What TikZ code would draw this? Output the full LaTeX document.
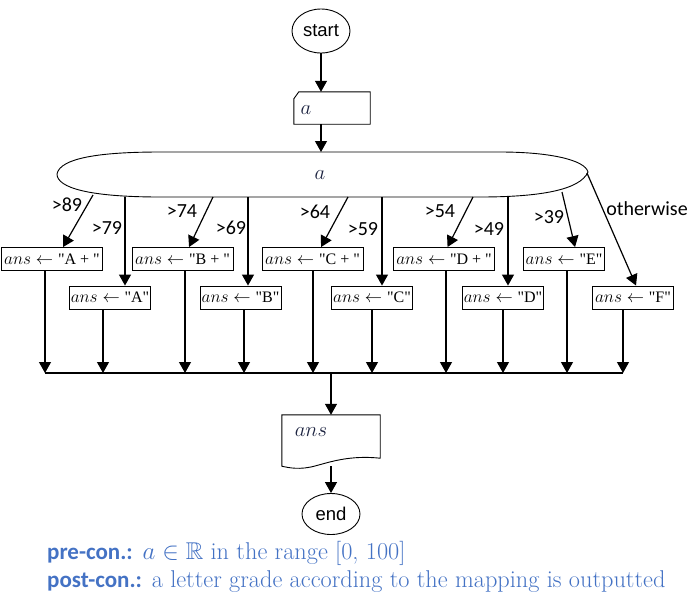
\documentclass[tikz,border=0pt]{standalone}
\usepackage{amssymb}
\usepackage{fontspec}
\usetikzlibrary{arrows.meta,shapes.geometric,calc}
\newfontfamily\carlito{Carlito}
\newfontfamily\arialf{Liberation Sans}
\newfontfamily\timesf{Liberation Serif}
\definecolor{navy}{HTML}{1C2340}
\definecolor{blu}{HTML}{4472C4}
\newcommand{\qs}[1]{{\timesf"#1"}}
\newcommand{\nhead}{\carlito\bfseries\fontsize{23}{26}\selectfont}
\tikzset{
  flow/.style={line width=1.2pt,-{Triangle[length=11pt,width=12pt]}},
  plain/.style={line width=1.2pt},
  outline/.style={line width=0.9pt},
  asg/.style={draw,line width=0.9pt,minimum height=23pt,inner sep=1pt,font=\fontsize{16}{18}\selectfont},
  asgw/.style={asg,minimum width=101pt},
  asgn/.style={asg,minimum width=81pt},
  lbl/.style={font=\carlito\fontsize{20}{22}\selectfont,inner sep=0pt},
  term/.style={ellipse,draw,line width=0.9pt,inner sep=0pt,font=\arialf\fontsize{18.5}{20}\selectfont},
  var/.style={text=navy,font=\fontsize{22}{24}\selectfont,inner sep=0pt},
  note/.style={anchor=base west,text=blu,inner sep=0pt,font=\fontsize{24.3}{27}\selectfont}
}
\begin{document}
\begin{tikzpicture}[x=1pt,y=-1pt]
\useasboundingbox (0,0) rectangle (697,611);
% start
\node[term,minimum width=58pt,minimum height=44pt] (start) at (321,31) {start};
% manual input a
\node[minimum width=76pt,minimum height=32pt,inner sep=0pt] (inp) at (332,108) {};
\draw[outline] (inp.south west) -- ($(inp.north west)+(0,7)$) -- ($(inp.north west)+(5,0)$) -- (inp.north east) -- (inp.south east) -- cycle;
\node[var] (inptxt) at (306,110) {$a$};
\draw[flow] (start.south) -- (start.south |- inp.north);
% decision
\draw[outline] (57,174) .. controls (60,158) and (100,152) .. (160,152) -- (500,152)
  .. controls (550,152) and (585,160) .. (588,172)
  .. controls (580,190) and (540,197) .. (480,197) -- (160,197)
  .. controls (90,197) and (57,188) .. (57,174) -- cycle;
\node[var] (dec) at (320,175) {$a$};
\coordinate (dectop) at (321,152);
\draw[flow] (dectop |- inp.south) -- (dectop);
% branch starts
\coordinate (s1) at (93,195);
\coordinate (s2) at (125,197);
\coordinate (s3) at (213,197);
\coordinate (s4) at (248,197);
\coordinate (s5) at (348,197);
\coordinate (s6) at (382,197);
\coordinate (s7) at (473,197);
\coordinate (s8) at (508,197);
\coordinate (s9) at (562,192);
\coordinate (s10) at (587,173);
% assignment boxes
\node[asgw] (bAp) at (52,259) {$ans \leftarrow$ \qs{A + }};
\node[asgw] (bBp) at (182.5,259) {$ans \leftarrow$ \qs{B + }};
\node[asgw] (bCp) at (312.5,259) {$ans \leftarrow$ \qs{C + }};
\node[asgw] (bDp) at (444,259) {$ans \leftarrow$ \qs{D + }};
\node[asgn] (bE) at (564,259) {$ans \leftarrow$ \qs{E}};
\node[asgn] (bA) at (110,297.5) {$ans \leftarrow$ \qs{A}};
\node[asgn] (bB) at (240.5,297.5) {$ans \leftarrow$ \qs{B}};
\node[asgn] (bC) at (372,297.5) {$ans \leftarrow$ \qs{C}};
\node[asgn] (bD) at (503,297.5) {$ans \leftarrow$ \qs{D}};
\node[asgn] (bF) at (633,297.5) {$ans \leftarrow$ \qs{F}};
% branch arrows
\draw[flow] (s1) -- ($(bAp.north west)+(62,0)$);
\draw[flow] (s2) -- (s2 |- bA.north);
\draw[flow] (s3) -- ($(bBp.north west)+(57.5,0)$);
\draw[flow] (s4) -- (s4 |- bB.north);
\draw[flow] (s5) -- ($(bCp.north west)+(59.5,0)$);
\draw[flow] (s6) -- (s6 |- bC.north);
\draw[flow] (s7) -- ($(bDp.north west)+(54.5,0)$);
\draw[flow] (s8) -- (s8 |- bD.north);
\draw[flow] (s9) -- ($(bE.north west)+(52,0)$);
\draw[flow] (s10) -- ($(bF.north west)+(44,0)$);
% labels
\node[lbl] (l1) at (67,205) {>89};
\node[lbl] (l2) at (107,228) {>79};
\node[lbl] (l3) at (182,211) {>74};
\node[lbl] (l4) at (231,228) {>69};
\node[lbl] (l5) at (315,212) {>64};
\node[lbl] (l6) at (363,229) {>59};
\node[lbl] (l7) at (440,211) {>54};
\node[lbl] (l8) at (489,229) {>49};
\node[lbl] (l9) at (549,217) {>39};
\node[lbl] (l10) at (647,209) {otherwise};
% merge
\coordinate (m1) at (45,373);
\coordinate (m2) at (103,373);
\coordinate (m3) at (185,373);
\coordinate (m4) at (244,373);
\coordinate (m5) at (313,373);
\coordinate (m6) at (372,373);
\coordinate (m7) at (446,373);
\coordinate (m8) at (503,373);
\coordinate (m9) at (567,373);
\coordinate (m10) at (623,373);
\coordinate (mc) at (331,373);
\draw[flow] (bAp.south -| m1) -- (m1);
\draw[flow] (bA.south -| m2) -- (m2);
\draw[flow] (bBp.south -| m3) -- (m3);
\draw[flow] (bB.south -| m4) -- (m4);
\draw[flow] (bCp.south -| m5) -- (m5);
\draw[flow] (bC.south -| m6) -- (m6);
\draw[flow] (bDp.south -| m7) -- (m7);
\draw[flow] (bD.south -| m8) -- (m8);
\draw[flow] (bE.south -| m9) -- (m9);
\draw[flow] (bF.south -| m10) -- (m10);
\draw[plain] (m1) -- (m10);
% output document
\node[minimum width=98pt,minimum height=51pt,inner sep=0pt] (out) at (331,440.5) {};
\draw[outline] (out.south west) -- (out.north west) -- (out.north east) -- ($(out.south east)+(0,-8)$)
  .. controls (350,455) and (330,462) .. (315,466) .. controls (300,470) and (290,468) .. (out.south west) -- cycle;
\node[var] (outtxt) at (311,432) {$ans$};
\draw[flow] (mc) -- (mc |- out.north);
% end
\node[term,minimum width=58pt,minimum height=41pt] (endn) at (331,514) {end};
\coordinate (wv) at (331,466);
\draw[flow] (wv) -- (endn.north);
% notes
\node[note] (pre) at (47,559) {{\nhead pre-con.:} $a \in \mathbb{R}$ in the range [0, 100]};
\node[note] (post) at (47,587) {{\nhead post-con.:} a letter grade according to the mapping is outputted};
\end{tikzpicture}
\end{document}
